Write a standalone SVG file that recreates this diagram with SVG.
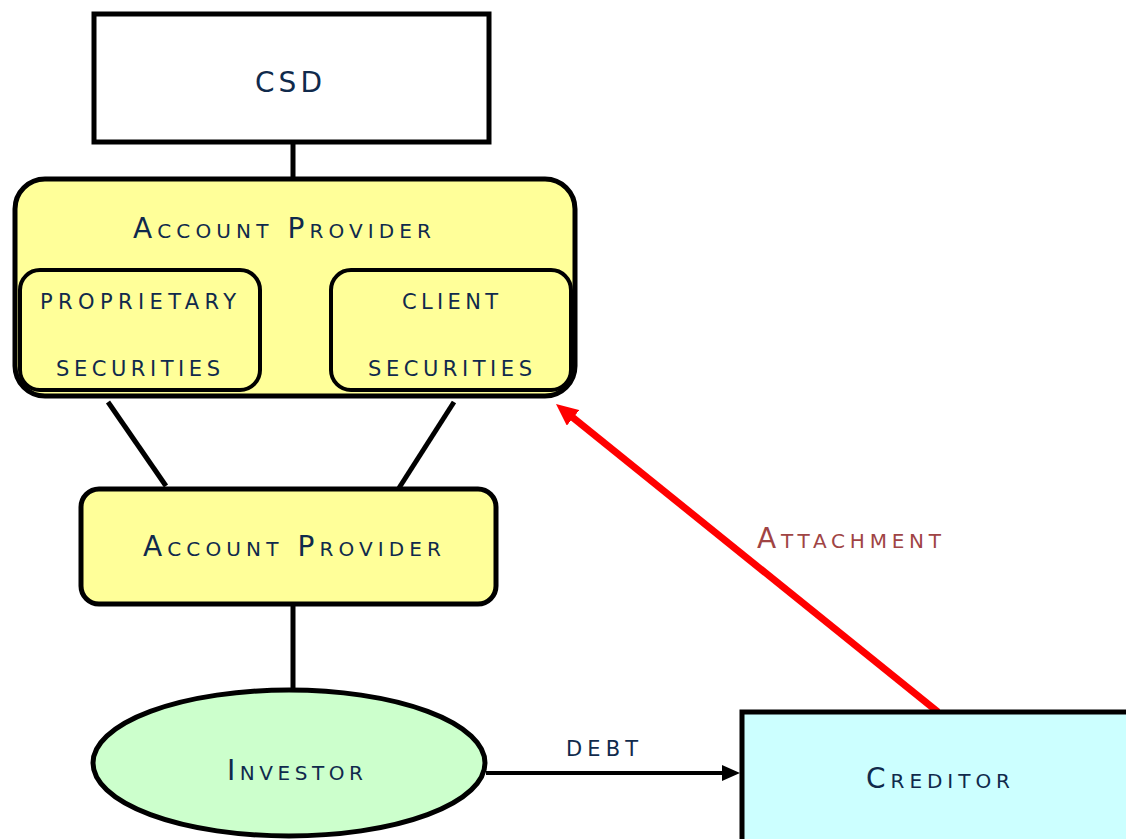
<svg xmlns="http://www.w3.org/2000/svg" width="1126" height="839" viewBox="0 0 1126 839">
<defs>
<style>
.lbl{font-family:"DejaVu Sans","Liberation Sans",sans-serif;font-size:28px;font-variant:small-caps;fill:#102A4C}
.sc{font-size:30px}
.box{stroke:#000;stroke-width:5}
.conn{stroke:#000;stroke-width:5;fill:none}
</style>
<marker id="redHead" markerUnits="userSpaceOnUse" markerWidth="22" markerHeight="20" refX="4" refY="10" orient="auto">
<path d="M0,0 L22,10 L0,20 z" fill="#FF0000"/>
</marker>
<marker id="blackHead" markerUnits="userSpaceOnUse" markerWidth="18" markerHeight="16" refX="2" refY="8" orient="auto">
<path d="M0,0 L18,8 L0,16 z" fill="#000"/>
</marker>
</defs>
<rect width="1126" height="839" fill="#fff"/>
<g id="connectors">
<line class="conn" x1="293" y1="142" x2="293" y2="180"/>
<line class="conn" x1="108" y1="402" x2="166" y2="486"/>
<line class="conn" x1="454" y1="402" x2="399" y2="488"/>
<line class="conn" x1="293" y1="604" x2="293" y2="689"/>
<line x1="486" y1="773" x2="724" y2="773" stroke="#000" stroke-width="4" marker-end="url(#blackHead)"/>
<line x1="938" y1="712" x2="570" y2="415.3" stroke="#FF0000" stroke-width="7" marker-end="url(#redHead)"/>
<text class="lbl sc" x="566" y="756" textLength="72" lengthAdjust="spacing">debt</text>
<text class="lbl" x="757" y="548" textLength="184" lengthAdjust="spacing" style="fill:#A04444">Attachment</text>
</g>
<g id="csd">
<rect class="box" x="94" y="14" width="395" height="128" fill="#fff"/>
<text class="lbl" x="255" y="92" textLength="67" lengthAdjust="spacing">CSD</text>
</g>
<g id="account-provider-top">
<rect class="box" x="15" y="179" width="560" height="217" rx="30" ry="30" fill="#FFFF99"/>
<text class="lbl" x="133" y="238" textLength="298" lengthAdjust="spacing">Account Provider</text>
</g>
<g id="proprietary">
<rect x="20" y="270" width="240" height="120" rx="20" ry="20" fill="#FFFF99" stroke="#000" stroke-width="4"/>
<text class="lbl sc" x="40" y="309" textLength="196" lengthAdjust="spacing">proprietary</text>
<text class="lbl sc" x="56" y="376" textLength="164" lengthAdjust="spacing">securities</text>
</g>
<g id="client">
<rect x="331" y="270" width="240" height="120" rx="20" ry="20" fill="#FFFF99" stroke="#000" stroke-width="4"/>
<text class="lbl sc" x="402" y="309" textLength="96" lengthAdjust="spacing">client</text>
<text class="lbl sc" x="368" y="376" textLength="164" lengthAdjust="spacing">securities</text>
</g>
<g id="account-provider-bottom">
<rect class="box" x="81" y="489" width="415" height="115" rx="18" ry="18" fill="#FFFF99"/>
<text class="lbl" x="143" y="556" textLength="298" lengthAdjust="spacing">Account Provider</text>
</g>
<g id="investor">
<ellipse class="box" cx="289" cy="763" rx="196" ry="73" fill="#CCFFCC"/>
<text class="lbl" x="227" y="780" textLength="136" lengthAdjust="spacing">Investor</text>
</g>
<g id="creditor">
<rect class="box" x="742" y="712" width="400" height="150" fill="#CCFFFF"/>
<text class="lbl" x="866" y="788" textLength="144" lengthAdjust="spacing">Creditor</text>
</g>
</svg>
